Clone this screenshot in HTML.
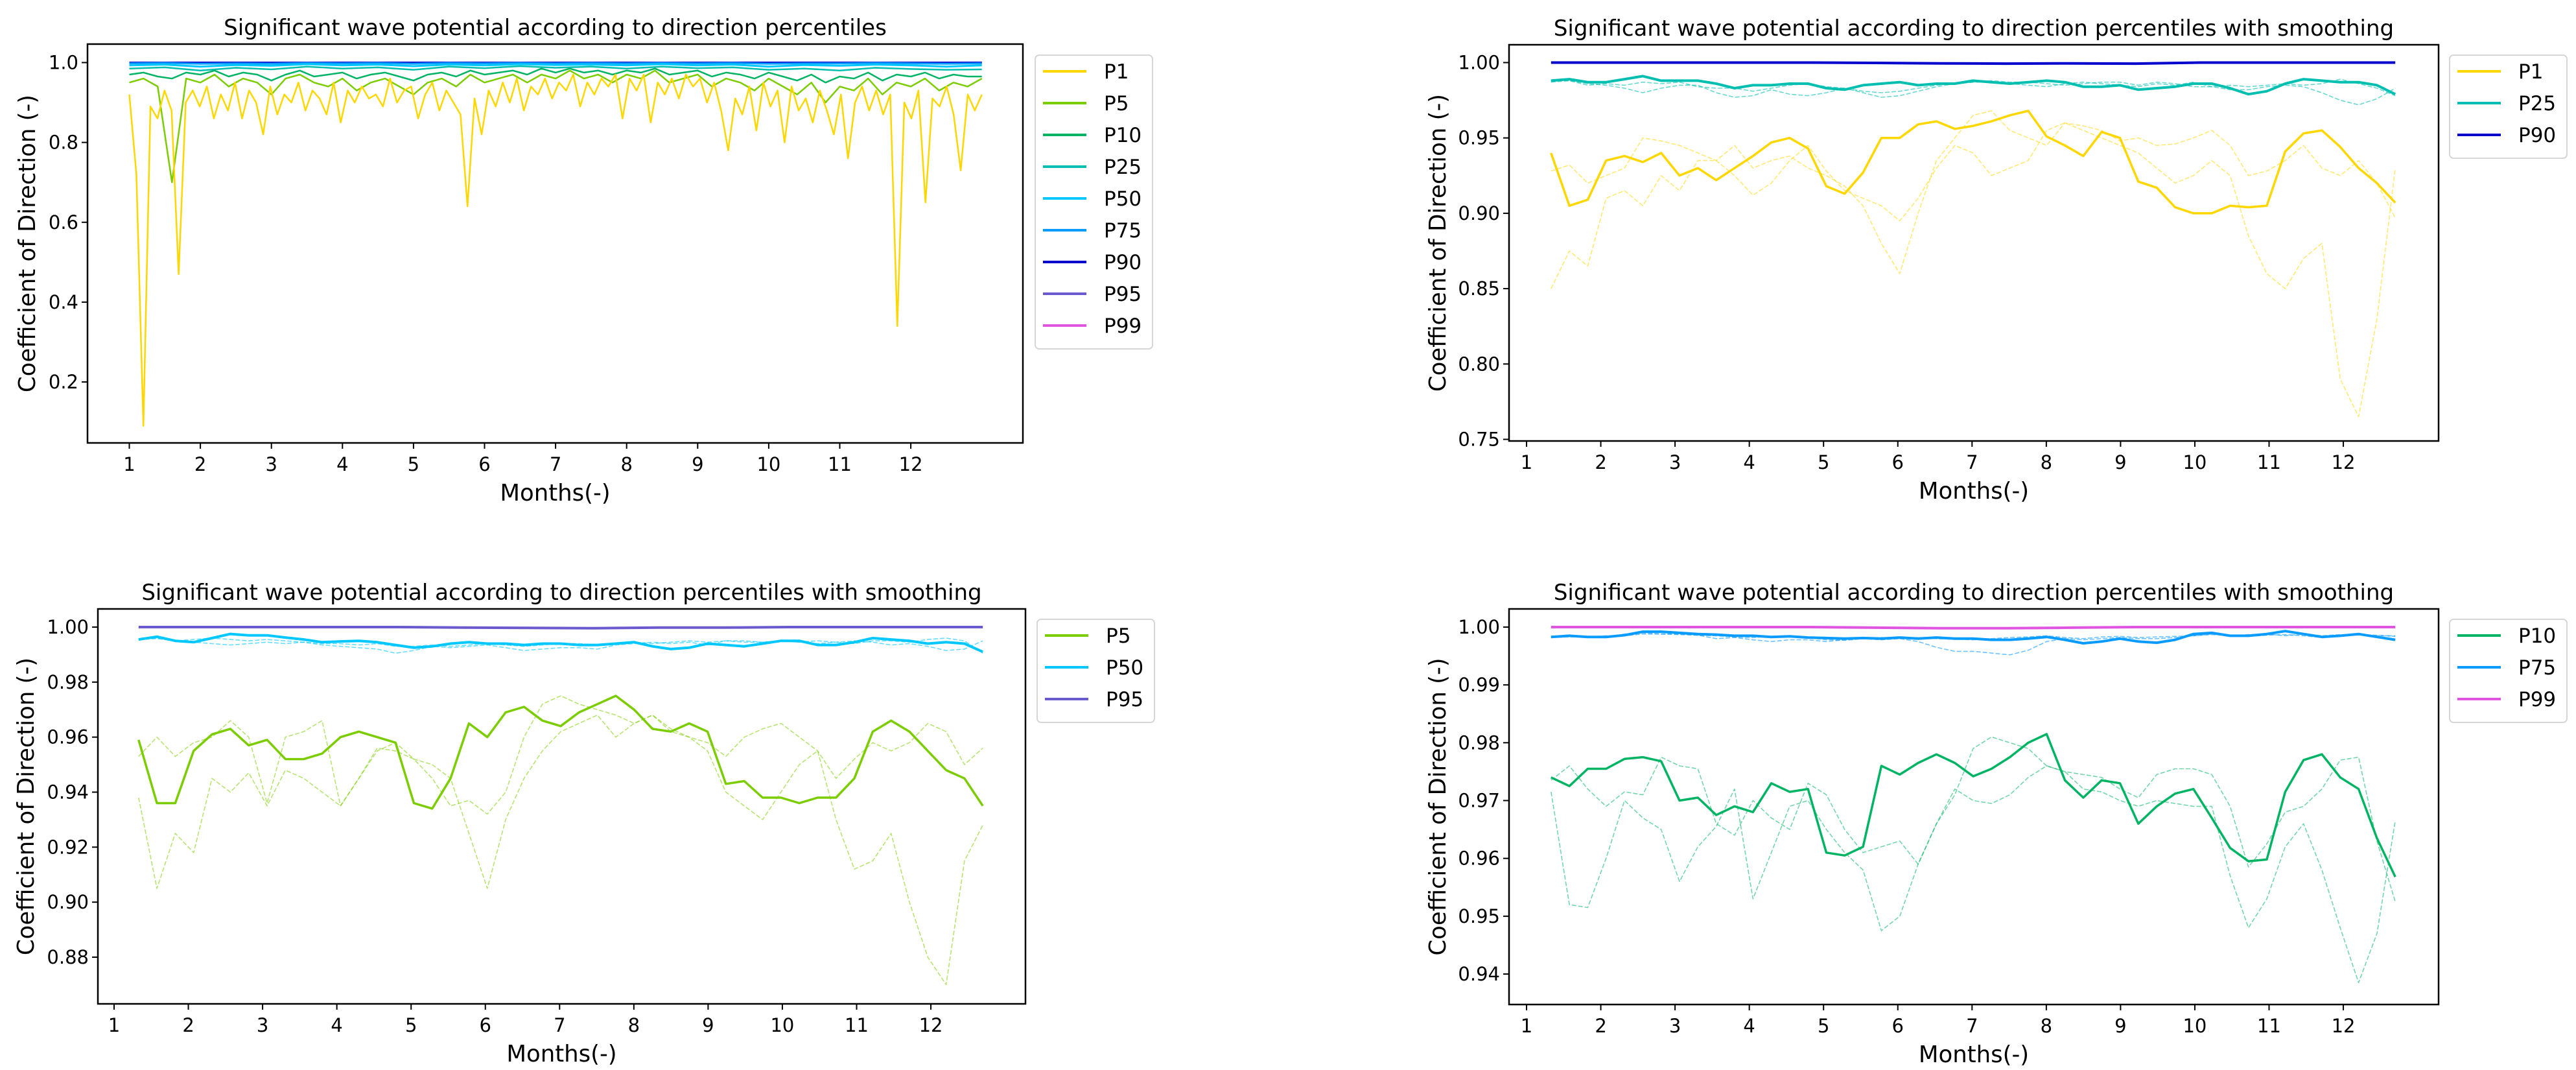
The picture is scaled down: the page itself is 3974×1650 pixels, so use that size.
<!DOCTYPE html>
<html><head><meta charset="utf-8"><style>
html,body{margin:0;padding:0;background:#fff;}
svg{display:block;font-family:"DejaVu Sans","Liberation Sans",sans-serif;}
</style></head><body>
<svg id="fig" width="3974" height="1650" viewBox="0 0 3974 1650" xmlns="http://www.w3.org/2000/svg"></svg>
<script>
// ---------- DATA ----------
const monthTicks = [1,2,3,4,5,6,7,8,9,10,11,12];
const tlYTicks = [0.2,0.4,0.6,0.8,1.0];
const trYTicks = [0.75,0.80,0.85,0.90,0.95,1.00];
const blYTicks = [0.88,0.90,0.92,0.94,0.96,0.98,1.00];
const brYTicks = [0.94,0.95,0.96,0.97,0.98,0.99,1.00];

// Top-left raw series
const tlP1 = [.92,.72,.09,.89,.86,.93,.88,.47,.90,.93,.89,.94,.86,.92,.88,.95,.86,.93,.90,.82,.94,.87,.92,.90,.95,.88,.93,.91,.87,.95,.85,.93,.90,.94,.91,.92,.89,.96,.90,.93,.94,.86,.92,.95,.88,.93,.90,.87,.64,.91,.82,.93,.89,.95,.90,.96,.88,.94,.92,.96,.91,.95,.93,.97,.89,.95,.92,.96,.94,.97,.86,.96,.93,.97,.85,.95,.92,.96,.91,.97,.94,.96,.90,.95,.88,.78,.91,.87,.94,.83,.95,.89,.93,.80,.94,.88,.91,.85,.93,.88,.82,.92,.76,.90,.94,.88,.93,.87,.92,.34,.90,.86,.93,.65,.91,.89,.94,.87,.73,.92,.88,.92];
const tlP5 = [.95,.96,.94,.70,.96,.95,.97,.94,.96,.95,.92,.96,.97,.95,.94,.96,.93,.95,.96,.94,.92,.95,.96,.94,.97,.95,.96,.97,.95,.97,.96,.98,.96,.97,.95,.97,.96,.98,.95,.96,.97,.94,.96,.95,.93,.96,.94,.92,.95,.90,.94,.93,.96,.92,.95,.94,.96,.93,.95,.94,.96];
const tlP10 = [.97,.975,.965,.96,.975,.97,.98,.965,.975,.97,.955,.97,.98,.965,.97,.975,.96,.97,.975,.965,.955,.97,.975,.965,.98,.97,.975,.98,.97,.985,.975,.985,.975,.98,.97,.98,.975,.985,.97,.975,.98,.965,.975,.97,.96,.975,.965,.955,.97,.95,.965,.96,.975,.955,.97,.965,.975,.96,.97,.965,.965];
const tlP25 = [.985,.988,.98,.987,.983,.99,.985,.988,.982,.99,.986,.991,.987,.99,.985,.99,.986,.988,.982,.985,.98,.987,.984,.982,.983];
const tlP50 = [.993,.995,.99,.994,.992,.996,.993,.995,.991,.995,.993,.996,.994,.995,.993,.996,.993,.995,.99,.994,.992,.995,.993,.99,.993];
const tlP75 = [.998,.999,.997,.998,.997,.999,.998,.999,.997,.999,.998,.999,.998,.999,.998,.999,.998,.999,.997,.998,.998,.999,.998,.997,.998];
const tlP90 = [.9995,1.0,.9995,1.0,1.0,.9995,1.0,.9995,1.0,1.0,.9995,1.0];
const tlP95 = [1.0,1.0,1.0,1.0,1.0,1.0];
const tlP99 = [1.0,1.0,1.0,1.0,1.0,1.0];

// Top-right smoothed
const trP1 = [.940,.905,.909,.935,.938,.934,.940,.925,.930,.922,.930,.938,.947,.950,.943,.918,.913,.927,.950,.950,.959,.961,.956,.958,.961,.965,.968,.951,.945,.938,.954,.950,.921,.917,.904,.900,.900,.905,.904,.905,.941,.953,.955,.944,.930,.920,.907];
const trP1a = [.850,.875,.865,.910,.915,.905,.925,.915,.935,.935,.925,.912,.920,.935,.945,.928,.915,.910,.905,.895,.910,.930,.945,.940,.925,.930,.935,.955,.960,.955,.950,.945,.940,.930,.920,.925,.935,.925,.885,.860,.850,.870,.880,.790,.765,.830,.930];
const trP1b = [.928,.932,.920,.925,.930,.950,.948,.945,.940,.935,.945,.930,.935,.938,.930,.925,.918,.905,.880,.860,.900,.935,.950,.965,.968,.955,.950,.945,.960,.958,.955,.948,.950,.945,.946,.950,.955,.945,.925,.928,.935,.945,.930,.925,.935,.920,.897];
const trP25 = [.988,.989,.987,.987,.989,.991,.988,.988,.988,.986,.983,.985,.985,.986,.986,.983,.982,.985,.986,.987,.985,.986,.986,.988,.987,.986,.987,.988,.987,.984,.984,.985,.982,.983,.984,.986,.986,.983,.979,.981,.986,.989,.988,.987,.987,.985,.979];
const trP25a = [.988,.988,.986,.985,.983,.980,.983,.985,.985,.980,.977,.978,.982,.979,.978,.980,.983,.980,.977,.978,.981,.984,.986,.987,.987,.986,.985,.984,.986,.987,.986,.985,.984,.986,.985,.987,.984,.982,.982,.984,.985,.984,.980,.975,.972,.976,.983];
const trP25b = [.987,.988,.985,.986,.985,.987,.986,.987,.984,.983,.983,.981,.983,.985,.986,.984,.983,.981,.980,.981,.983,.985,.986,.987,.988,.987,.987,.986,.985,.986,.987,.987,.985,.987,.986,.984,.984,.985,.984,.985,.986,.985,.986,.989,.986,.983,.978];
const trP90 = [1.0,1.0,1.0,1.0,1.0,.9998,.9995,.9993,.9995,.9993,1.0,1.0,1.0,1.0];

// Bottom-left smoothed
const blP5 = [.959,.936,.936,.955,.961,.963,.957,.959,.952,.952,.954,.960,.962,.960,.958,.936,.934,.945,.965,.960,.969,.971,.966,.964,.969,.972,.975,.970,.963,.962,.965,.962,.943,.944,.938,.938,.936,.938,.938,.945,.962,.966,.962,.955,.948,.945,.935];
const blP5a = [.938,.905,.925,.918,.945,.940,.947,.935,.948,.945,.940,.935,.945,.955,.958,.952,.950,.945,.925,.905,.930,.945,.955,.962,.965,.968,.960,.965,.968,.962,.960,.955,.940,.935,.930,.940,.950,.955,.930,.912,.915,.925,.900,.880,.870,.915,.928];
const blP5b = [.953,.960,.953,.958,.960,.966,.960,.936,.960,.962,.966,.935,.945,.956,.955,.952,.945,.935,.937,.932,.940,.960,.972,.975,.972,.970,.968,.965,.968,.963,.960,.958,.953,.960,.963,.965,.960,.955,.945,.952,.958,.955,.958,.965,.962,.950,.956];
const blP50 = [.9955,.9965,.9950,.9945,.9960,.9975,.9970,.9970,.9962,.9955,.9945,.9948,.9950,.9945,.9935,.9925,.9930,.9940,.9945,.9940,.9940,.9935,.9940,.9940,.9935,.9935,.9940,.9945,.9930,.9920,.9925,.9940,.9935,.9930,.9940,.9950,.9950,.9935,.9935,.9945,.9960,.9955,.9950,.9940,.9945,.9940,.9910];
const blP50a = [.9955,.9960,.9950,.9945,.9940,.9935,.9940,.9945,.9940,.9945,.9935,.9930,.9925,.9920,.9905,.9915,.9930,.9925,.9930,.9935,.9925,.9915,.9920,.9925,.9925,.9920,.9935,.9940,.9945,.9940,.9945,.9935,.9950,.9945,.9945,.9950,.9945,.9940,.9945,.9950,.9945,.9935,.9940,.9930,.9915,.9920,.9950];
const blP50b = [.9955,.9958,.9950,.9955,.9960,.9955,.9950,.9955,.9950,.9945,.9940,.9940,.9935,.9940,.9930,.9930,.9935,.9930,.9935,.9940,.9935,.9930,.9935,.9940,.9940,.9935,.9940,.9945,.9940,.9945,.9950,.9945,.9950,.9950,.9945,.9950,.9945,.9950,.9945,.9940,.9950,.9950,.9945,.9955,.9960,.9950,.9905];
const blP95 = [1.0,1.0,1.0,1.0,1.0,.9998,.9997,.9996,.9998,.9998,1.0,1.0,1.0,1.0];

// Bottom-right smoothed
const brP10 = [.974,.9725,.9755,.9755,.9772,.9775,.9768,.9700,.9705,.9675,.9690,.9680,.9730,.9715,.9720,.9610,.9605,.9620,.9760,.9745,.9765,.9780,.9765,.9742,.9755,.9775,.9800,.9815,.9735,.9705,.9735,.9730,.9660,.9690,.9712,.9720,.9670,.9618,.9595,.9598,.9715,.9770,.9780,.9740,.9720,.9635,.9568];
const brP10a = [.9715,.9520,.9515,.9600,.9700,.9670,.9650,.9560,.9620,.9655,.9720,.9530,.9610,.9690,.9700,.9650,.9610,.9580,.9475,.9500,.9590,.9660,.9720,.9700,.9695,.9710,.9740,.9760,.9750,.9720,.9715,.9700,.9690,.9700,.9695,.9690,.9690,.9570,.9480,.9530,.9620,.9660,.9580,.9480,.9385,.9470,.9665];
const brP10b = [.9735,.9760,.9720,.9690,.9715,.9710,.9775,.9760,.9755,.9660,.9640,.9700,.9670,.9650,.9730,.9710,.9650,.9610,.9620,.9630,.9590,.9660,.9710,.9790,.9810,.9800,.9790,.9760,.9750,.9745,.9740,.9720,.9705,.9745,.9755,.9755,.9745,.9690,.9585,.9625,.9680,.9690,.9720,.9770,.9775,.9630,.9525];
const brP75 = [.9983,.9985,.9983,.9983,.9986,.9992,.9992,.9990,.9988,.9987,.9985,.9985,.9983,.9984,.9982,.9981,.9980,.9981,.9980,.9982,.9980,.9982,.9980,.9980,.9978,.9978,.9980,.9983,.9978,.9972,.9975,.9980,.9975,.9973,.9978,.9988,.9990,.9985,.9985,.9988,.9993,.9988,.9983,.9985,.9988,.9983,.9978];
const brP75a = [.9982,.9983,.9983,.9985,.9985,.9988,.9988,.9987,.9986,.9980,.9982,.9978,.9975,.9978,.9978,.9975,.9978,.9980,.9978,.9980,.9975,.9965,.9958,.9958,.9955,.9952,.9960,.9975,.9980,.9978,.9980,.9982,.9980,.9980,.9982,.9985,.9988,.9985,.9987,.9988,.9985,.9988,.9985,.9987,.9986,.9985,.9985];
const brP75b = [.9984,.9985,.9984,.9982,.9988,.9990,.9988,.9988,.9986,.9985,.9983,.9982,.9984,.9983,.9982,.9978,.9977,.9980,.9982,.9980,.9982,.9980,.9979,.9978,.9980,.9982,.9983,.9985,.9982,.9980,.9983,.9984,.9982,.9983,.9984,.9985,.9987,.9986,.9984,.9986,.9987,.9985,.9982,.9985,.9987,.9986,.9984];
const brP99 = [1.0,1.0,1.0,1.0,1.0,.9999,.9998,.9998,.9999,1.0,1.0,1.0,1.0,1.0];

// ---------- DRAWING ----------
const NS = "http://www.w3.org/2000/svg";
const svg = document.getElementById("fig");
function mk(tag, parent){ const e = document.createElementNS(NS, tag); parent.appendChild(e); return e; }

function panel(cfg){
  const g = mk("g", svg);
  
  
  const L=cfg.box[0], T=cfg.box[1], R=cfg.box[2], B=cfg.box[3];
  const xs = v => cfg.x1px + (v-1)*cfg.pxPerMonth;
  const ys = v => cfg.y0px + (cfg.y0 - v)/(cfg.y0 - cfg.y1)*(cfg.y1px - cfg.y0px);
  const cp = mk("clipPath", g); cp.setAttribute("id", cfg.name+"-clip");
  const cr = mk("rect", cp); cr.setAttribute("x",L); cr.setAttribute("y",T); cr.setAttribute("width",R-L); cr.setAttribute("height",B-T);
  const sg = mk("g", g); sg.setAttribute("clip-path","url(#"+cfg.name+"-clip)");
  
  
  cfg.series.forEach(s => {
    const n = s.data.length;
    const pts = s.data.map((v,i)=> (xs(cfg.xa + (cfg.xb-cfg.xa)*i/(n-1))).toFixed(1)+","+ys(v).toFixed(1)).join(" ");
    const pl = mk("polyline", sg);
    pl.setAttribute("points", pts);
    pl.setAttribute("fill","none");
    pl.setAttribute("stroke", s.color);
    pl.setAttribute("stroke-width", s.w);
    pl.setAttribute("stroke-linejoin","round");
    if (s.dash) pl.setAttribute("stroke-dasharray", s.dash);
    if (s.op) pl.setAttribute("stroke-opacity", s.op);
    
    
  });
  const fr = mk("rect", g);
  fr.setAttribute("x",L); fr.setAttribute("y",T); fr.setAttribute("width",R-L); fr.setAttribute("height",B-T);
  fr.setAttribute("fill","none"); fr.setAttribute("stroke","#000"); fr.setAttribute("stroke-width","2.5");
  
  
  monthTicks.forEach(m => {
    const x = xs(m);
    const tl = mk("line", g);
    tl.setAttribute("x1",x); tl.setAttribute("x2",x); tl.setAttribute("y1",B); tl.setAttribute("y2",B+9);
    tl.setAttribute("stroke","#000"); tl.setAttribute("stroke-width","2");
    const t = mk("text", g);
    t.setAttribute("x",x); t.setAttribute("y",B+43); t.setAttribute("font-size","29"); t.setAttribute("text-anchor","middle");
    t.textContent = String(m);
    
    
  });
  cfg.yticks.forEach(v => {
    const y = ys(v);
    const tl = mk("line", g);
    tl.setAttribute("x1",L-9); tl.setAttribute("x2",L); tl.setAttribute("y1",y); tl.setAttribute("y2",y);
    tl.setAttribute("stroke","#000"); tl.setAttribute("stroke-width","2");
    const t = mk("text", g);
    t.setAttribute("x",L-14); t.setAttribute("y",y+10); t.setAttribute("font-size","29"); t.setAttribute("text-anchor","end");
    t.textContent = v.toFixed(cfg.dec);
    
    
  });
  const ti = mk("text", g);
  ti.setAttribute("x",(L+R)/2); ti.setAttribute("y",T-14); ti.setAttribute("font-size","34"); ti.setAttribute("text-anchor","middle");
  ti.textContent = cfg.title;
  
  
  const xl = mk("text", g);
  xl.setAttribute("x",(L+R)/2); xl.setAttribute("y",B+89); xl.setAttribute("font-size","35.5"); xl.setAttribute("text-anchor","middle");
  xl.textContent = "Months(-)";
  
  
  const yl = mk("text", g);
  const cx = cfg.ylabX, cy = (T+B)/2;
  yl.setAttribute("x",cx); yl.setAttribute("y",cy); yl.setAttribute("font-size","35.5"); yl.setAttribute("text-anchor","middle");
  yl.setAttribute("transform","rotate(-90 "+cx+" "+cy+")");
  yl.textContent = "Coefficient of Direction (-)";
  
  
  const lg = mk("g", g);
  
  
  const lx = cfg.leg[0], ly = cfg.leg[1];
  const n = cfg.legend.length;
  const lb = mk("rect", lg);
  lb.setAttribute("x",lx); lb.setAttribute("y",ly); lb.setAttribute("width",181); lb.setAttribute("height",n*49+12);
  lb.setAttribute("rx","6"); lb.setAttribute("fill","#fff"); lb.setAttribute("stroke","#d6d6d6"); lb.setAttribute("stroke-width","2");
  cfg.legend.forEach((e,i) => {
    const y = ly + 25 + i*49;
    const ll = mk("line", lg);
    ll.setAttribute("x1",lx+12); ll.setAttribute("x2",lx+79); ll.setAttribute("y1",y); ll.setAttribute("y2",y);
    ll.setAttribute("stroke",e.color); ll.setAttribute("stroke-width","4");
    
    
    const lt = mk("text", lg);
    lt.setAttribute("x",lx+106); lt.setAttribute("y",y+11); lt.setAttribute("font-size","31");
    lt.textContent = e.label;
    
    
  });
}

const C = {P1:"#FFD700",P5:"#7CCD00",P10:"#00B464",P25:"#00BFB0",P50:"#00C8FF",P75:"#0A9BFF",P90:"#0000CD",P95:"#6A5ACD",P99:"#E055E0"};
const T1 = "Significant wave potential according to direction percentiles";
const T2 = T1 + " with smoothing";

function tlS(id,data,color,w){ return {id:id,data:data,color:color,w:w}; }
panel({name:"chart-top-left", box:[135,68,1578,683], x1px:199.5, pxPerMonth:109.6,
  y0:1.0, y0px:96.5, y1:0.2, y1px:589, yticks:tlYTicks, dec:1, xa:1, xb:13,
  title:T1, ylabX:54, leg:[1597,85],
  series:[tlS("line-p99",tlP99,C.P99,3),tlS("line-p95",tlP95,C.P95,3),tlS("line-p90",tlP90,C.P90,3),
    tlS("line-p75",tlP75,C.P75,3),tlS("line-p50",tlP50,C.P50,3),tlS("line-p25",tlP25,C.P25,2.5),
    tlS("line-p10",tlP10,C.P10,2.5),tlS("line-p5",tlP5,C.P5,2.5),tlS("line-p1",tlP1,C.P1,2.5)],
  legend:["P1","P5","P10","P25","P50","P75","P90","P95","P99"].map(k=>({label:k,color:C[k]}))});

function sm(lo,loA,loB,mid,midA,midB,top,kLo,kMid,kTop){
  return [
    {id:"line-"+kLo.toLowerCase()+"-variant-a",data:loA,color:C[kLo],w:1.6,dash:"7,3",op:0.55},
    {id:"line-"+kLo.toLowerCase()+"-variant-b",data:loB,color:C[kLo],w:1.6,dash:"7,3",op:0.55},
    {id:"line-"+kLo.toLowerCase(),data:lo,color:C[kLo],w:3.5},
    {id:"line-"+kMid.toLowerCase()+"-variant-a",data:midA,color:C[kMid],w:1.6,dash:"7,3",op:0.6},
    {id:"line-"+kMid.toLowerCase()+"-variant-b",data:midB,color:C[kMid],w:1.6,dash:"7,3",op:0.6},
    {id:"line-"+kMid.toLowerCase(),data:mid,color:C[kMid],w:4},
    {id:"line-"+kTop.toLowerCase(),data:top,color:C[kTop],w:4}
  ];
}

panel({name:"chart-top-right", box:[2328,69,3762,680], x1px:2355, pxPerMonth:114.55,
  y0:1.0, y0px:96.5, y1:0.75, y1px:677.5, yticks:trYTicks, dec:2, xa:1.33, xb:12.7,
  title:T2, ylabX:2230, leg:[3779,85],
  series:sm(trP1,trP1a,trP1b,trP25,trP25a,trP25b,trP90,"P1","P25","P90"),
  legend:["P1","P25","P90"].map(k=>({label:k,color:C[k]}))});

panel({name:"chart-bottom-left", box:[151,939,1582,1548], x1px:176, pxPerMonth:114.55,
  y0:1.0, y0px:967, y1:0.88, y1px:1476, yticks:blYTicks, dec:2, xa:1.33, xb:12.7,
  title:T2, ylabX:52, leg:[1600,955],
  series:sm(blP5,blP5a,blP5b,blP50,blP50a,blP50b,blP95,"P5","P50","P95"),
  legend:["P5","P50","P95"].map(k=>({label:k,color:C[k]}))});

panel({name:"chart-bottom-right", box:[2328,939,3762,1549], x1px:2355, pxPerMonth:114.55,
  y0:1.0, y0px:967, y1:0.94, y1px:1502, yticks:brYTicks, dec:2, xa:1.33, xb:12.7,
  title:T2, ylabX:2230, leg:[3779,955],
  series:sm(brP10,brP10a,brP10b,brP75,brP75a,brP75b,brP99,"P10","P75","P99"),
  legend:["P10","P75","P99"].map(k=>({label:k,color:C[k]}))});
</script>
</body></html>
